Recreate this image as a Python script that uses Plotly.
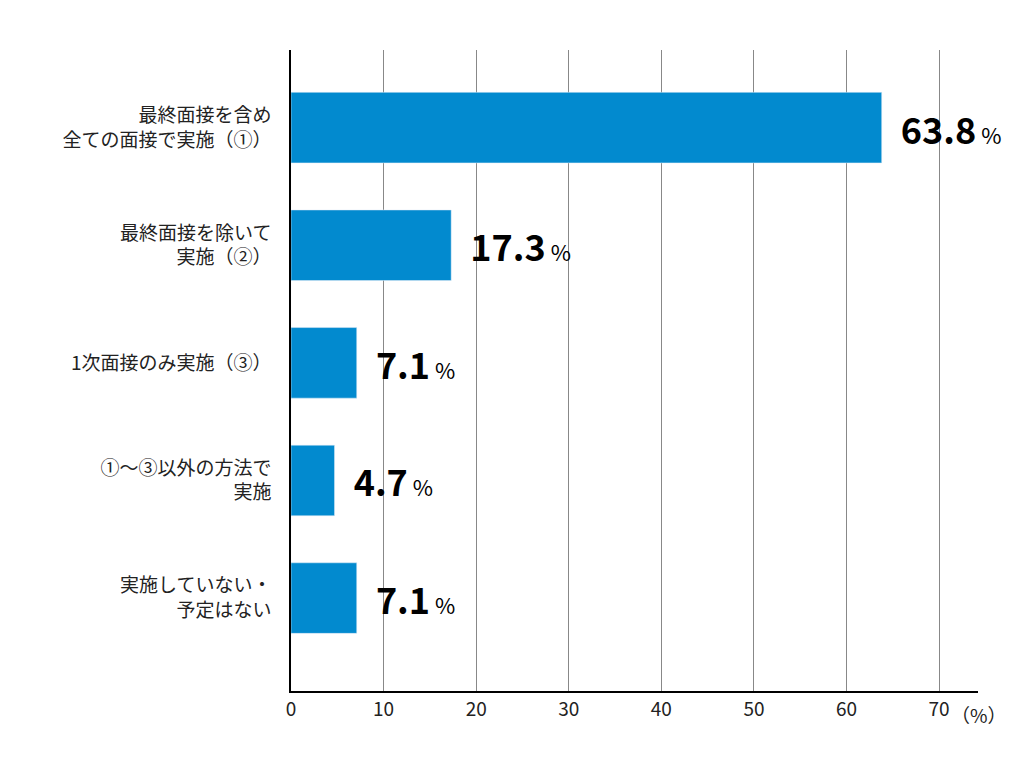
import plotly.graph_objects as go

categories = ["最終面接を含め<br>全ての面接で実施（①）", "最終面接を除いて<br>実施（②）",
              "1次面接のみ実施（③）", "①～③以外の方法で<br>実施", "実施していない・<br>予定はない"]
values = [63.8, 17.3, 7.1, 4.7, 7.1]
xticks = [0, 10, 20, 30, 40, 50, 60, 70]

fig = go.Figure(go.Bar(
    x=values, y=list(range(len(values))), orientation="h", width=0.6,
    marker_color="#028ACF",
    text=[f"  <b>{v}</b><span style='font-size:22px'> %</span>" for v in values],
    textposition="outside", cliponaxis=False,
    textfont=dict(size=36, color="black", family="Noto Sans CJK JP"),
))
fig.update_layout(
    width=1024, height=768, plot_bgcolor="white", paper_bgcolor="white",
    margin=dict(l=283, r=54, t=42, b=85, autoexpand=False), showlegend=False,
    font=dict(family="Noto Sans CJK JP", size=19, color="#222"),
    xaxis=dict(range=[0, 74.2], tickvals=xticks, showgrid=True, gridcolor="#888",
               gridwidth=1, showline=True, linecolor="black", linewidth=1.5,
               ticks="", tickfont=dict(size=19), zeroline=False, automargin=False),
    yaxis=dict(range=[4.79, -0.66], tickvals=list(range(len(values))), ticktext=categories,
               showline=True, linecolor="black", linewidth=1.5, ticks="",
               ticklabelstandoff=14, showgrid=False, automargin=False),
    annotations=[dict(x=70, xref="x", y=0, yref="paper", yanchor="top", xanchor="left",
                      xshift=10, yshift=-8, text="（%）", showarrow=False, font=dict(size=19))],
)
fig.write_html("out.html")
